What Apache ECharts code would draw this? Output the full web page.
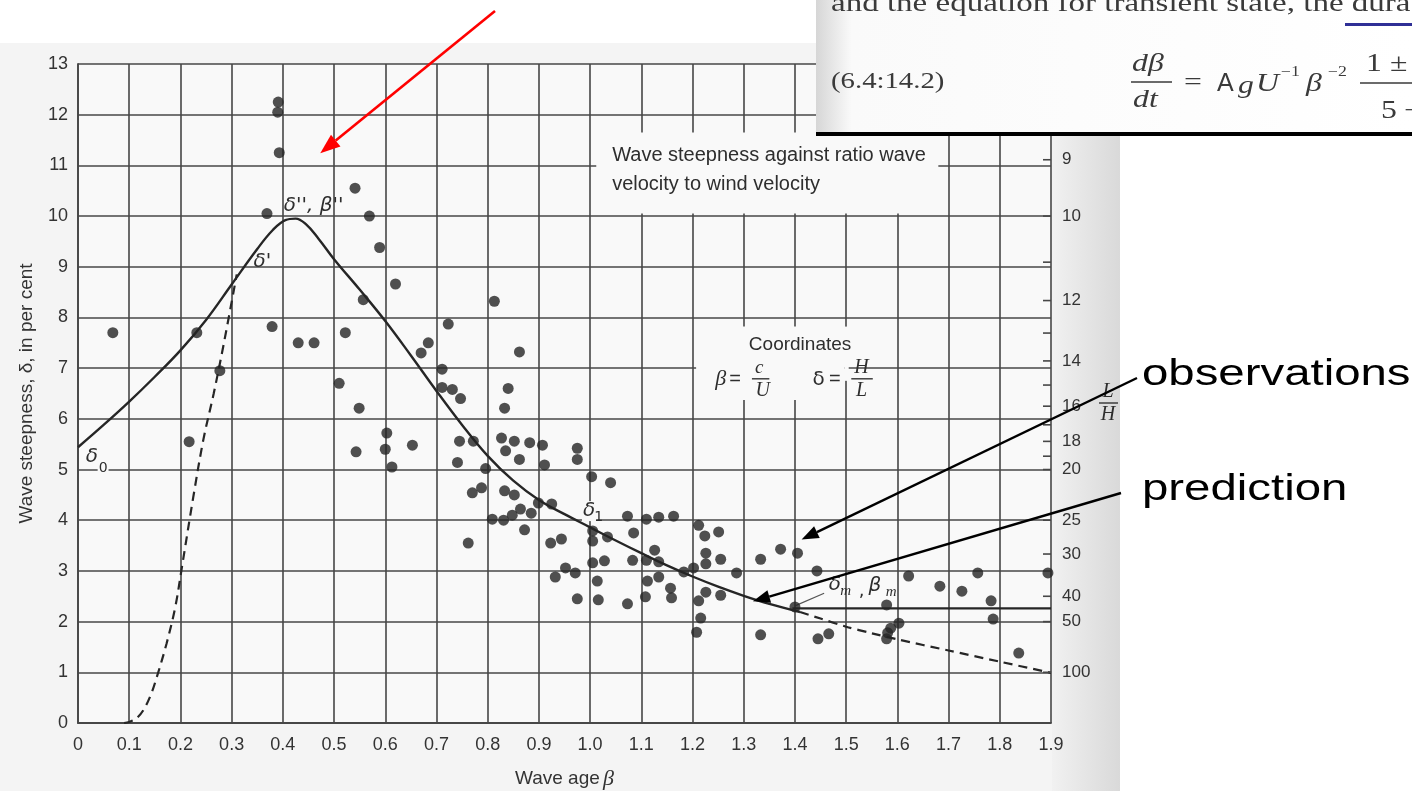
<!DOCTYPE html>
<html>
<head>
<meta charset="utf-8">
<title>Wave steepness against wave age</title>
<script src="https://cdn.jsdelivr.net/npm/echarts@6.0.0/dist/echarts.min.js"></script>
<style>
html,body{margin:0;padding:0;background:#fff;}
#chart{width:1412px;height:791px;}
</style>
</head>
<body>
<div id="chart"></div>
<script>
// ---------------- data ----------------
// axis ranges: wave age β = c/U and steepness δ = H/L (per cent)
const betaRange = [0, 1.9, 0.1];
const deltaRange = [0, 13, 1];

// field observations [β, δ %]
const observations = [
  [0.068,7.7],[0.217,5.55],[0.232,7.7],[0.277,6.95],[0.369,10.05],[0.379,7.82],
  [0.391,12.25],[0.39,12.05],[0.393,11.25],[0.43,7.5],[0.461,7.5],[0.51,6.7],
  [0.522,7.7],[0.541,10.55],[0.557,8.35],[0.569,10.0],[0.589,9.38],[0.62,8.66],
  [0.549,6.21],[0.543,5.35],[0.603,5.72],[0.6,5.4],[0.613,5.05],[0.653,5.48],
  [0.67,7.3],[0.684,7.5],[0.711,6.98],[0.723,7.87],[0.711,6.62],[0.731,6.58],
  [0.747,6.4],[0.813,8.32],[0.833,6.21],[0.84,6.6],[0.862,7.32],
  [0.745,5.56],[0.772,5.56],[0.741,5.14],[0.796,5.02],[0.827,5.62],[0.852,5.56],
  [0.882,5.53],[0.907,5.48],[0.835,5.37],[0.862,5.2],[0.911,5.09],[0.975,5.42],
  [0.975,5.2],[1.003,4.86],[1.04,4.74],[0.77,4.54],[0.788,4.64],[0.833,4.58],
  [0.852,4.5],[0.809,4.02],[0.831,4.0],[0.848,4.1],[0.864,4.22],[0.885,4.14],
  [0.899,4.34],[0.925,4.32],[0.872,3.81],[0.762,3.55],[0.923,3.55],[0.944,3.63],
  [1.005,3.79],[1.005,3.59],[1.034,3.67],[1.073,4.08],[1.085,3.75],[1.083,3.21],
  [1.005,3.16],[1.028,3.2],[0.952,3.06],[0.971,2.96],[0.932,2.88],[1.014,2.8],
  [0.975,2.45],[1.016,2.43],[1.073,2.35],[1.11,4.02],[1.134,4.06],[1.163,4.08],
  [1.212,3.9],[1.224,3.69],[1.251,3.77],[1.126,3.41],[1.11,3.21],[1.134,3.18],
  [1.226,3.35],[1.226,3.14],[1.255,3.23],[1.183,2.98],[1.202,3.06],[1.286,2.96],
  [1.112,2.8],[1.134,2.88],[1.157,2.66],[1.159,2.47],[1.108,2.49],[1.226,2.58],
  [1.255,2.52],[1.212,2.41],[1.216,2.07],[1.208,1.79],[1.333,3.23],[1.372,3.43],
  [1.405,3.35],[1.333,1.74],[1.445,1.66],[1.466,1.76],[1.443,3.0],[1.40,2.29],
  [1.622,2.9],[1.757,2.96],[1.894,2.96],[1.683,2.7],[1.726,2.6],[1.783,2.41],
  [1.787,2.05],[1.579,2.33],[1.603,1.97],[1.587,1.87],[1.581,1.78],[1.579,1.66],
  [1.837,1.38]
];

// predicted steepness δ(β), solid up to β_m
const steepnessCurve = [
  [0,5.44],[0.05,5.88],[0.1,6.34],[0.15,6.83],[0.2,7.35],[0.25,7.95],[0.3,8.65],
  [0.35,9.35],[0.38,9.72],[0.405,9.92],[0.425,9.95],[0.445,9.84],[0.47,9.55],
  [0.5,9.15],[0.55,8.55],[0.6,7.93],[0.65,7.25],[0.7,6.55],[0.75,5.88],[0.8,5.27],
  [0.85,4.78],[0.9,4.4],[0.95,4.12],[1.0,3.86],[1.05,3.6],[1.1,3.35],[1.15,3.11],
  [1.2,2.89],[1.25,2.69],[1.3,2.51],[1.35,2.35],[1.41,2.19]
];
// dashed continuation beyond β_m
const steepnessTail = [
  [1.41,2.19],[1.45,2.06],[1.5,1.9],[1.55,1.77],[1.6,1.65],[1.7,1.43],[1.8,1.21],[1.9,0.99]
];
// δ' curve (dashed)
const deltaPrime = [
  [0.09,0],[0.1,0.02],[0.115,0.1],[0.128,0.26],[0.142,0.55],[0.154,0.91],[0.173,1.57],
  [0.19,2.29],[0.203,3.08],[0.225,4.45],[0.245,5.6],[0.265,6.5],[0.285,7.5],[0.31,8.85]
];
// limiting steepness δ_m from β_m to the right edge
const deltaMLine = [[1.395,2.26],[1.9,2.26]];
// leader line from the δm, βm label
const deltaMLeader = [[1.40,2.31],[1.457,2.56]];

// right-hand scale L/H, placed at δ = 100 / (L/H)
const lhTicks = [9,10,11,12,13,14,15,16,17,18,19,20,25,30,40,50,100];
const lhLabels = [9,10,12,14,16,18,20,25,30,40,50,100];

// blank panels behind the in-plot captions [β1, δ1, β2, δ2]
const captionPanels = [
  [1.012,10.05,1.68,11.65],
  [1.207,6.37,1.497,7.82],
  [1.497,6.75,1.505,7.82]
];

// ---------------- styles ----------------
const SANS = "'Liberation Sans', Arial, sans-serif";
const SERIF = "'Liberation Serif', 'Times New Roman', serif";
const INK = '#262626';
const GRIDC = '#474747';
const PLOT_BG = '#f9f9f9';
const PAGE_BG = '#f4f4f4';

const chart = echarts.init(document.getElementById('chart'));

chart.setOption({
  animation: false,
  backgroundColor: '#ffffff',
  grid: { left: 78, top: 64, width: 973, height: 659, show: true, backgroundColor: PLOT_BG, borderWidth: 0,
    containLabel: false, outerBoundsMode: 'none' },
  xAxis: {
    type: 'value', min: betaRange[0], max: betaRange[1], interval: betaRange[2],
    name: '{t|Wave age} {g|β}', nameLocation: 'middle', nameGap: 45,
    nameTextStyle: { rich: {
      t: { fontFamily: SANS, fontSize: 19, color: '#333' },
      g: { fontFamily: SERIF, fontStyle: 'italic', fontSize: 22, color: '#333' }
    } },
    axisLine: { show: true, lineStyle: { color: GRIDC, width: 1.8 } },
    axisTick: { show: false },
    axisLabel: { margin: 13, fontFamily: SANS, fontSize: 18, color: '#333', showMaxLabel: true,
      formatter: v => (v === 0 ? '0' : v.toFixed(1)) },
    splitLine: { show: true, lineStyle: { color: GRIDC, width: 1.6 } }
  },
  yAxis: {
    type: 'value', min: deltaRange[0], max: deltaRange[1], interval: deltaRange[2],
    name: 'Wave steepness, δ, in per cent', nameLocation: 'middle', nameGap: 42, nameRotate: 90,
    nameTextStyle: { fontFamily: SANS, fontSize: 19, color: '#333' },
    axisLine: { show: true, lineStyle: { color: GRIDC, width: 1.8 } },
    axisTick: { show: false },
    axisLabel: { margin: 10, fontFamily: SANS, fontSize: 18, color: '#333' },
    splitLine: { show: true, lineStyle: { color: GRIDC, width: 1.6 } }
  },
  series: [
    {
      type: 'custom', name: 'caption panels', z: 1, silent: true,
      encode: { x: [0, 2], y: [1, 3] },
      data: captionPanels,
      renderItem: (params, api) => {
        const a = api.coord([api.value(0), api.value(3)]);
        const b = api.coord([api.value(2), api.value(1)]);
        return { type: 'rect', shape: { x: a[0], y: a[1], width: b[0] - a[0], height: b[1] - a[1] },
          style: { fill: PLOT_BG } };
      }
    },
    { type: 'line', name: 'δ', data: steepnessCurve, smooth: 0.4, showSymbol: false, z: 2,
      lineStyle: { color: INK, width: 2.4 } },
    { type: 'line', name: 'δ tail', data: steepnessTail, smooth: 0.3, showSymbol: false, z: 2,
      lineStyle: { color: INK, width: 2.2, type: [9, 6] } },
    { type: 'line', name: "δ'", data: deltaPrime, smooth: 0.35, showSymbol: false, z: 2,
      lineStyle: { color: INK, width: 2.2, type: [9, 6] } },
    { type: 'line', name: 'δm', data: deltaMLine, showSymbol: false, z: 2,
      lineStyle: { color: INK, width: 2.2 } },
    { type: 'line', name: 'δm leader', data: deltaMLeader, showSymbol: false, z: 2,
      lineStyle: { color: '#555', width: 1.2 } },
    { type: 'scatter', name: 'observations', data: observations, symbolSize: 11, z: 3,
      itemStyle: { color: '#242424' } },
    {
      type: 'custom', name: 'L/H', z: 3, clip: false, silent: true,
      data: lhTicks.map(v => [betaRange[1], 100 / v]),
      renderItem: (params, api) => {
        const v = lhTicks[params.dataIndex];
        const p = api.coord([api.value(0), api.value(1)]);
        const children = [{ type: 'line', shape: { x1: p[0] - 8, y1: p[1], x2: p[0], y2: p[1] },
          style: { stroke: GRIDC, lineWidth: 1.6 } }];
        if (lhLabels.indexOf(v) >= 0) {
          children.push({ type: 'text', x: p[0] + 11, y: p[1],
            style: { text: String(v), fill: '#333', font: "17px 'Liberation Sans'",
              textAlign: 'left', textVerticalAlign: 'middle', align: 'left', verticalAlign: 'middle' } });
        }
        return { type: 'group', children };
      }
    }
  ]
});

// ---------------- annotations ----------------
const px = (b, d) => chart.convertToPixel({ gridIndex: 0 }, [b, d]);

function text(x, y, str, font, opts) {
  const o = opts || {};
  return {
    type: 'text', x, y, z: o.z || 5, scaleX: o.sx || 1, silent: true,
    style: {
      text: str, font, fill: o.fill || '#2e2e2e',
      textAlign: o.align || 'center', align: o.align || 'center',
      textVerticalAlign: 'middle', verticalAlign: 'middle',
      backgroundColor: o.bg, padding: o.bg ? [0, 1] : 0
    }
  };
}
function textAt(b, d, str, font, opts) {
  const p = px(b, d);
  return text(p[0], p[1], str, font, opts);
}
function seg(x1, y1, x2, y2, color, w, z) {
  return { type: 'line', z: z || 5, silent: true, shape: { x1, y1, x2, y2 }, style: { stroke: color, lineWidth: w } };
}
function arrow(x1, y1, x2, y2, color, w, hl, hw, z) {
  const ang = Math.atan2(y2 - y1, x2 - x1);
  const bx = x2 - hl * Math.cos(ang), by = y2 - hl * Math.sin(ang);
  const nx = -Math.sin(ang), ny = Math.cos(ang);
  return [
    seg(x1, y1, bx, by, color, w, z),
    { type: 'polygon', z, silent: true,
      shape: { points: [[x2, y2], [bx + nx * hw / 2, by + ny * hw / 2], [bx - nx * hw / 2, by - ny * hw / 2]] },
      style: { fill: color } }
  ];
}

const G = echarts.graphic;
const els = [];

// scanned page and its shaded right edge
els.push({ type: 'rect', z: -10, silent: true, shape: { x: 0, y: 43, width: 1120, height: 748 }, style: { fill: PAGE_BG } });
els.push({ type: 'rect', z: -9, silent: true, shape: { x: 1052, y: 43, width: 68, height: 748 },
  style: { fill: new G.LinearGradient(0, 0, 1, 0, [{ offset: 0, color: '#f1f1f1' }, { offset: 1, color: '#d9d9d9' }]) } });

// curve labels
const GK = "italic 20px 'DejaVu Sans'";
els.push(textAt(0.027, 5.25, 'δ', GK, { bg: PLOT_BG }));
els.push(textAt(0.049, 5.03, '0', "14px 'DejaVu Sans'", { bg: PLOT_BG }));
els.push(textAt(0.36, 9.09, "δ'", GK));
els.push(textAt(0.46, 10.2, "δ'', β''", GK));
els.push(textAt(0.998, 4.18, 'δ', GK, { bg: PLOT_BG }));
els.push(textAt(1.017, 4.05, '1', "14px 'DejaVu Sans'"));
els.push(textAt(1.478, 2.72, 'δ', GK));
els.push(textAt(1.499, 2.6, 'm', "italic 15px 'Liberation Serif'"));
els.push(textAt(1.530, 2.6, ',', "18px 'DejaVu Sans'"));
els.push(textAt(1.556, 2.70, 'β', GK));
els.push(textAt(1.588, 2.58, 'm', "italic 15px 'Liberation Serif'"));

// caption
const CAP = "20px 'Liberation Sans'";
els.push(textAt(1.043, 11.2, 'Wave steepness against ratio wave', CAP, { align: 'left' }));
els.push(textAt(1.043, 10.62, 'velocity to wind velocity', CAP, { align: 'left' }));

// coordinate definitions
els.push(textAt(1.31, 7.47, 'Coordinates', "19px 'Liberation Sans'", { align: 'left' }));
const IT = "italic 22px 'Liberation Serif'";
els.push(textAt(1.255, 6.78, 'β', IT));
els.push(textAt(1.283, 6.78, '=', "20px 'Liberation Sans'"));
els.push(textAt(1.33, 7.0, 'c', "italic 19px 'Liberation Serif'"));
{ const a = px(1.316, 6.79), b = px(1.350, 6.79); els.push(seg(a[0], a[1], b[0], b[1], '#333', 1.4)); }
els.push(textAt(1.337, 6.56, 'U', "italic 20px 'Liberation Serif'"));
els.push(textAt(1.446, 6.78, 'δ', "20px 'DejaVu Sans'"));
els.push(textAt(1.478, 6.78, '=', "20px 'Liberation Sans'"));
els.push(textAt(1.53, 7.0, 'H', "italic 20px 'Liberation Serif'"));
{ const a = px(1.51, 6.79), b = px(1.552, 6.79); els.push(seg(a[0], a[1], b[0], b[1], '#333', 1.4)); }
els.push(textAt(1.53, 6.56, 'L', "italic 20px 'Liberation Serif'"));

// L/H scale title
els.push(text(1108, 392, 'L', "italic 20px 'Liberation Serif'"));
els.push(seg(1099, 403, 1118, 403, '#333', 1.4));
els.push(text(1108, 415, 'H', "italic 20px 'Liberation Serif'"));

// pasted text box with the transient-state equation
els.push({ type: 'rect', z: 50, silent: true, shape: { x: 816, y: 0, width: 596, height: 134 },
  style: { fill: new G.LinearGradient(0, 0, 1, 0, [{ offset: 0, color: '#d6d6d6' }, { offset: 0.06, color: '#fafafa' }, { offset: 1, color: '#ffffff' }]) } });
els.push({ type: 'rect', z: 51, silent: true, shape: { x: 816, y: 132, width: 596, height: 4 }, style: { fill: '#000' } });
const EQ = { z: 52, align: 'left', sx: 1.27, fill: '#3a3a3a' };
els.push(text(831, 4, 'and the equation for transient state, the dura', "26px 'Liberation Serif'", EQ));
els.push({ type: 'rect', z: 52, silent: true, shape: { x: 1345, y: 23, width: 67, height: 3 }, style: { fill: '#2f2f96' } });
els.push(text(831, 82, '(6.4:14.2)', "23px 'Liberation Serif'", Object.assign({}, EQ, { sx: 1.25 })));
els.push(text(1132, 64, 'dβ', "italic 25px 'Liberation Serif'", EQ));
els.push(seg(1131, 82, 1172, 82, '#3a3a3a', 1.4, 52));
els.push(text(1133, 100, 'dt', "italic 25px 'Liberation Serif'", EQ));
els.push(text(1184, 83, '=', "25px 'Liberation Serif'", EQ));
els.push(text(1217, 84, 'A', "25px 'Liberation Sans'", Object.assign({}, EQ, { sx: 1.0 })));
els.push(text(1238, 86, 'g', "italic 25px 'Liberation Serif'", EQ));
els.push(text(1256, 84, 'U', "italic 25px 'Liberation Serif'", EQ));
els.push(text(1281, 72, '−1', "14px 'Liberation Serif'", EQ));
els.push(text(1306, 84, 'β', "italic 25px 'Liberation Serif'", EQ));
els.push(text(1328, 72, '−2', "14px 'Liberation Serif'", EQ));
els.push(text(1366, 64, '1', "25px 'Liberation Serif'", EQ));
els.push(text(1390, 64, '±', "25px 'Liberation Serif'", EQ));
els.push(seg(1360, 83, 1412, 83, '#3a3a3a', 1.4, 52));
els.push(text(1381, 111, '5', "25px 'Liberation Serif'", EQ));
els.push(text(1404, 111, '−', "25px 'Liberation Serif'", EQ));

// pointers
{
  const t = px(0.473, 11.24);
  arrow(495, 11, t[0], t[1], '#ff0000', 2.6, 20, 15, 60).forEach(e => els.push(e));
  const o = px(1.413, 3.62);
  arrow(1137, 378, o[0], o[1], '#000000', 2.4, 17, 13, 60).forEach(e => els.push(e));
  const p = px(1.318, 2.40);
  arrow(1121, 493, p[0], p[1], '#000000', 2.4, 17, 13, 60).forEach(e => els.push(e));
}
els.push(text(1142, 375, 'observations', "37px 'Liberation Sans'", { z: 60, align: 'left', sx: 1.28, fill: '#000' }));
els.push(text(1142, 490, 'prediction', "37px 'Liberation Sans'", { z: 60, align: 'left', sx: 1.28, fill: '#000' }));

chart.setOption({ graphic: { elements: els } });
</script>
</body>
</html>
